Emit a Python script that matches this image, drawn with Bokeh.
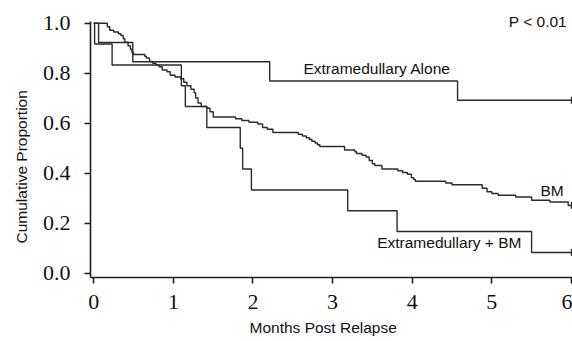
import numpy as np
from bokeh.plotting import figure
from bokeh.models import Range1d, FixedTicker, NumeralTickFormatter, Label, Title
from bokeh.embed import file_html
from bokeh.resources import INLINE

# ---- data ----
x_ticks = [0, 1, 2, 3, 4, 5, 6]
y_ticks = [0.0, 0.2, 0.4, 0.6, 0.8, 1.0]
end_time = 6.0

em_alone_t = [0.06, 0.49, 2.21, 4.57]
em_alone_s = [0.923, 0.846, 0.769, 0.692]

em_bm_t = [0.01, 0.23, 1.10, 1.15, 1.42, 1.84, 1.87, 1.98, 3.19, 3.81, 5.50]
em_bm_s = [0.917, 0.833, 0.750, 0.667, 0.583, 0.500, 0.417, 0.333, 0.250, 0.167, 0.083]

bm_t = [0.17, 0.20, 0.25, 0.31, 0.34, 0.37, 0.39, 0.43, 0.46, 0.48, 0.50,
        0.64, 0.66, 0.70, 0.74, 0.78, 0.82, 0.86, 0.92, 0.96, 1.02, 1.09,
        1.13, 1.17, 1.22, 1.26, 1.28, 1.31, 1.35, 1.42, 1.46, 1.50, 1.78,
        1.86, 1.95, 2.06, 2.12, 2.18, 2.25, 2.57, 2.62, 2.67, 2.71, 2.74,
        2.78, 2.81, 2.84, 3.15, 3.28, 3.30, 3.37, 3.42, 3.46, 3.50, 3.53,
        3.62, 3.82, 3.88, 3.94, 3.99, 4.02, 4.04, 4.42, 4.50, 4.88, 4.94,
        5.00, 5.08, 5.30, 5.50, 5.73, 5.96]
bm_s = [0.986, 0.972, 0.965, 0.958, 0.951, 0.938, 0.924, 0.910, 0.896, 0.882, 0.875,
        0.868, 0.861, 0.847, 0.840, 0.833, 0.826, 0.813, 0.806, 0.792, 0.785, 0.778,
        0.764, 0.750, 0.736, 0.722, 0.701, 0.681, 0.667, 0.660, 0.646, 0.625, 0.618,
        0.611, 0.604, 0.597, 0.583, 0.576, 0.563, 0.556, 0.549, 0.542, 0.535, 0.528,
        0.521, 0.514, 0.507, 0.493, 0.486, 0.479, 0.472, 0.465, 0.451, 0.438, 0.431,
        0.417, 0.410, 0.403, 0.396, 0.382, 0.375, 0.368, 0.361, 0.354, 0.340, 0.326,
        0.319, 0.312, 0.305, 0.292, 0.285, 0.271]

LINE = "#2b2b2b"
AXIS = "#1e1e1e"
SANS = "Liberation Sans"
SERIF = "Liberation Serif"

p = figure(width=572, height=341,
           x_range=Range1d(-0.0415, 6.014), y_range=Range1d(-0.017, 1.043),
           output_backend="svg", toolbar_location=None,
           min_border_left=90, min_border_right=0, min_border_top=12, min_border_bottom=64)
p.outline_line_color = None
p.xgrid.visible = False
p.ygrid.visible = False
p.background_fill_color = "white"
p.border_fill_color = "white"

for ax in (p.xaxis[0], p.yaxis[0]):
    ax.axis_line_color = AXIS
    ax.axis_line_width = 1.6
    ax.major_tick_line_color = AXIS
    ax.major_tick_line_width = 1.6
    ax.major_tick_in = 0
    ax.major_tick_out = 6
    ax.minor_tick_line_color = None
    ax.major_label_text_font = SERIF
    ax.major_label_text_font_size = "22px"
    ax.major_label_text_color = "#111111"

p.xaxis.ticker = FixedTicker(ticks=x_ticks)
p.yaxis.ticker = FixedTicker(ticks=y_ticks)
p.yaxis.formatter = NumeralTickFormatter(format="0.0")
p.yaxis.bounds = (-0.017, 1.008)
p.yaxis.major_label_standoff = 14
p.xaxis.major_label_standoff = 11

p.add_layout(Title(text="Months Post Relapse", align="left", offset=159,
                   text_font=SANS, text_font_size="15.5px", text_font_style="normal",
                   text_color="#111111", standoff=11), "below")
p.add_layout(Title(text="Cumulative Proportion", align="left", offset=34,
                   text_font=SANS, text_font_size="15.5px", text_font_style="normal",
                   text_color="#111111", standoff=20), "left")


def steps(ts, ss):
    return [0.0] + list(ts) + [end_time], [1.0] + list(ss) + [ss[-1]]


for ts, ss in ((em_alone_t, em_alone_s), (bm_t, bm_s), (em_bm_t, em_bm_s)):
    xs, ys = steps(ts, ss)
    p.step(xs, ys, mode="after", line_color=LINE, line_width=1.4)
    p.scatter([end_time], [ss[-1]], marker="dash", angle=np.pi / 2, size=7,
              line_color=LINE, line_width=1.2)


def lab(x, y, text, **kw):
    p.add_layout(Label(x=x, y=y, text=text, text_font=SANS, text_font_size="15.5px",
                       text_color="#111111", text_baseline="middle", **kw))


lab(2.634, 0.819, "Extramedullary Alone")
lab(5.612, 0.332, "BM")
lab(3.56, 0.123, "Extramedullary + BM")
lab(5.214, 1.009, "P < 0.01")

open("out.html", "w").write(file_html(p, INLINE))
